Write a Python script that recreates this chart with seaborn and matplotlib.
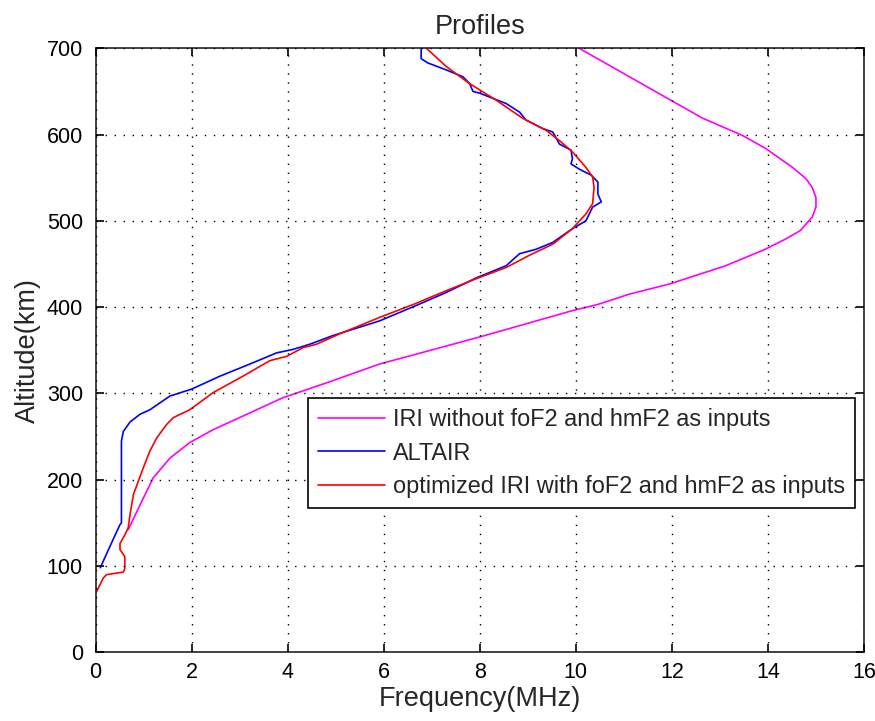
import matplotlib
matplotlib.use("Agg")
import matplotlib.pyplot as plt
import seaborn as sns
import pandas as pd

# ---- data ----
iri_alt = [142, 171, 202, 225, 243, 258, 272, 295, 314, 334, 365, 380, 396, 403, 415,
           427, 448, 467, 479, 489, 500, 504, 516, 527, 539, 549, 562, 584, 599, 619, 641, 700]
iri_freq = [0.68, 0.93, 1.20, 1.55, 1.96, 2.45, 3.00, 3.90, 4.90, 5.91, 7.97, 8.92, 9.93, 10.45, 11.11,
            11.96, 13.12, 13.94, 14.37, 14.68, 14.85, 14.92, 15.0, 15.0, 14.92, 14.79, 14.51, 13.95, 13.47,
            12.64, 11.94, 10.07]

altair_alt = [98, 119, 136, 148, 150, 245, 256, 267, 276, 281, 289, 297, 305, 320, 334, 347, 351,
              357, 367, 384, 402, 417, 434, 448, 462, 467, 475, 491, 500, 516, 522, 531, 545,
              553, 560, 566, 572, 582, 589, 603, 607, 617, 626, 636, 642, 648, 650, 659, 667,
              675, 683, 688, 700]
altair_freq = [0.10, 0.27, 0.41, 0.51, 0.54, 0.54, 0.58, 0.72, 0.93, 1.13, 1.34, 1.55, 2.0, 2.59, 3.21, 3.77, 4.11,
               4.46, 4.94, 5.91, 6.68, 7.30, 7.93, 8.55, 8.83, 9.17, 9.52, 9.93, 10.21, 10.35, 10.53, 10.46, 10.46,
               10.32, 10.07, 9.90, 9.93, 9.90, 9.66, 9.52, 9.31, 8.96, 8.83, 8.55, 8.27, 8.00, 7.86, 7.79, 7.65,
               7.30, 6.92, 6.78, 6.78]

opt_alt = [70, 86, 90, 93, 97, 111, 119, 126, 136, 144, 160, 183, 198, 213, 233, 248, 264, 272,
           281, 301, 320, 338, 343, 353, 357, 369, 388, 403, 419, 433, 446, 460, 473, 491, 508,
           520, 539, 551, 562, 580, 593, 605, 619, 640, 659, 679, 700]
opt_freq = [0.02, 0.16, 0.23, 0.58, 0.61, 0.61, 0.51, 0.51, 0.61, 0.68, 0.72, 0.79, 0.89, 0.99, 1.13, 1.27, 1.48, 1.62,
            1.96, 2.45, 3.07, 3.63, 3.98, 4.32, 4.60, 5.08, 5.91, 6.61, 7.30, 7.93, 8.55, 9.03, 9.52, 9.93, 10.21,
            10.35, 10.38, 10.35, 10.21, 9.93, 9.66, 9.38, 8.89, 8.34, 7.79, 7.30, 6.89]

labels = ["IRI without foF2 and hmF2 as inputs", "ALTAIR",
          "optimized IRI with foF2 and hmF2 as inputs"]
colors = ["#ff00ff", "#0000ff", "#ff0000"]
x_ticks = [0, 2, 4, 6, 8, 10, 12, 14, 16]
y_ticks = [0, 100, 200, 300, 400, 500, 600, 700]

df = pd.concat([
    pd.DataFrame({"freq": iri_freq, "alt": iri_alt, "series": labels[0]}),
    pd.DataFrame({"freq": altair_freq, "alt": altair_alt, "series": labels[1]}),
    pd.DataFrame({"freq": opt_freq, "alt": opt_alt, "series": labels[2]}),
], ignore_index=True)

sns.set_theme(style="white")
plt.rcParams["font.family"] = ["Liberation Sans", "DejaVu Sans"]

fig = plt.figure(figsize=(8.75, 7.21), dpi=100)
fig.patch.set_facecolor("white")
ax = fig.add_axes([95.5 / 875, 1 - 652.3 / 721, 768.5 / 875, 604 / 721])

sns.lineplot(data=df, x="freq", y="alt", hue="series", hue_order=labels,
             palette=dict(zip(labels, colors)), sort=False, estimator=None,
             linewidth=1.2, ax=ax, legend=True)

ax.set_xlim(0, 16)
ax.set_ylim(0, 700)
ax.set_xticks(x_ticks)
ax.set_yticks(y_ticks)
ax.set_xticklabels([str(v) for v in x_ticks], fontsize=15.5)
ax.set_yticklabels([str(v) for v in y_ticks], fontsize=15.5)
ax.tick_params(direction="in", length=6, width=1.2, top=True, right=True,
               bottom=True, left=True, colors="black", pad=7)
ax.tick_params(axis="y", pad=9)
for s in ax.spines.values():
    s.set_visible(True)
    s.set_color("#222222")
    s.set_linewidth(1.2)
ax.grid(True, color="black", linestyle=(0, (1, 5.5)), linewidth=1.0)
ax.set_axisbelow(False)

ax.set_xlabel("Frequency(MHz)", fontsize=19.5, labelpad=2)
ax.set_ylabel("Altitude(km)", fontsize=19.5, labelpad=4)
ax.set_title("Profiles", fontsize=19.5, pad=10)

handles, lbls = ax.get_legend_handles_labels()
leg = ax.legend(handles, lbls, loc="upper left",
                bbox_to_anchor=(308 / 875, 1 - 398 / 721), bbox_transform=fig.transFigure,
                borderaxespad=0, fontsize=16.9, frameon=True, fancybox=False,
                handlelength=2.85, handletextpad=0.35, labelspacing=0.46,
                borderpad=0.42)
leg.get_frame().set_edgecolor("black")
leg.get_frame().set_linewidth(1.2)
leg.get_frame().set_facecolor("white")
leg.get_frame().set_alpha(1)
for line in leg.get_lines():
    line.set_linewidth(1.2)

fig.savefig("out.png", dpi=100, facecolor="white")
